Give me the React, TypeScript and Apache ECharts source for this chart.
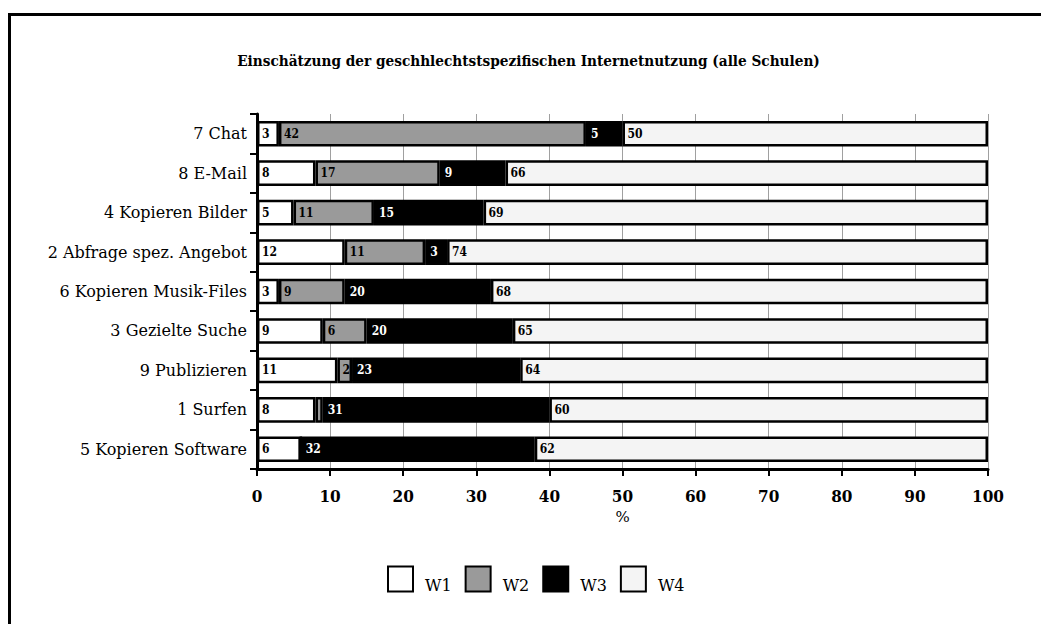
import React, { useEffect, useRef } from "react";
import * as echarts from "echarts";

const titleText = "Einschätzung der geschhlechtstspezifischen Internetnutzung (alle Schulen)";
const categories = [
  "7 Chat",
  "8 E-Mail",
  "4 Kopieren Bilder",
  "2 Abfrage spez. Angebot",
  "6 Kopieren Musik-Files",
  "3 Gezielte Suche",
  "9 Publizieren",
  "1 Surfen",
  "5 Kopieren Software",
];
const seriesNames = ["W1", "W2", "W3", "W4"];
const w1 = [3, 8, 5, 12, 3, 9, 11, 8, 6];
const w2 = [42, 17, 11, 11, 9, 6, 2, 1, 0];
const w3 = [5, 9, 15, 3, 20, 20, 23, 31, 32];
const w4 = [50, 66, 69, 74, 68, 65, 64, 60, 62];
const axisName = "%";

const SERIF = "'DejaVu Serif', serif";
const COND = "'DejaVu Serif Condensed', 'DejaVu Serif', serif";
const fills = ["#ffffff", "#9a9a9a", "#000000", "#f4f4f4"];
const labelColors = ["#000", "#000", "#fff", "#000"];

export default function App() {
  const ref = useRef<HTMLDivElement>(null);
  useEffect(() => {
    if (!ref.current) return;
    const chart = echarts.init(ref.current, null, { renderer: "svg" });
    const values = [w1, w2, w3, w4];
    chart.setOption({
      animation: false,
      backgroundColor: "#ffffff",
      title: {
        text: titleText,
        left: "center",
        top: 40,
        textStyle: { fontFamily: COND, fontSize: 15.2, fontWeight: "bold", color: "#000" },
      },
      graphic: [
        {
          type: "rect",
          shape: { x: 1.5, y: 6.5, width: 1100, height: 700 },
          style: { fill: "none", stroke: "#000", lineWidth: 3 },
          silent: true,
        },
      ],
      legend: {
        bottom: 26,
        left: 374,
        itemWidth: 25,
        itemHeight: 25,
        itemGap: 13,
        icon: "rect",
        data: seriesNames,
        formatter: "{a|{name}}",
        textStyle: {
          fontFamily: SERIF,
          fontSize: 16,
          color: "#000",
          padding: [0, 0, 0, 7],
          rich: { a: { fontFamily: SERIF, fontSize: 16, color: "#000", padding: [12, 0, 0, 0] } },
        },
      },
      grid: { left: 249, right: 61, top: 106, bottom: 155, containLabel: false },
      xAxis: {
        type: "value",
        min: 0,
        max: 100,
        interval: 10,
        name: axisName,
        nameLocation: "middle",
        nameGap: 40,
        nameTextStyle: { fontFamily: SERIF, fontSize: 15, color: "#000" },
        axisLine: { show: true, lineStyle: { color: "#000", width: 3 } },
        axisTick: { show: true, length: 7, lineStyle: { color: "#000", width: 2 } },
        axisLabel: { margin: 18, fontFamily: COND, fontSize: 17, fontWeight: "bold", color: "#000" },
        splitLine: { show: true, lineStyle: { color: "#a0a0a0", width: 1 } },
      },
      yAxis: {
        type: "category",
        inverse: true,
        data: categories,
        axisLine: { show: true, lineStyle: { color: "#000", width: 3 } },
        axisTick: { show: true, length: 7, lineStyle: { color: "#000", width: 2 } },
        axisLabel: { margin: 10, fontFamily: SERIF, fontSize: 16, color: "#000" },
        splitLine: { show: false },
      },
      series: seriesNames.map((name, i) => ({
        name,
        type: "bar",
        stack: "total",
        barWidth: "65%",
        data: values[i],
        itemStyle: { color: fills[i], borderColor: "#000", borderWidth: 2.5 },
        label: {
          show: true,
          position: "insideLeft",
          distance: 5,
          fontFamily: COND,
          fontSize: 12,
          fontWeight: "bold",
          color: labelColors[i],
          formatter: (p: any) => (p.value >= 2 ? String(p.value) : ""),
        },
      })),
    });
    return () => chart.dispose();
  }, []);
  return <div ref={ref} style={{ width: 1041, height: 616 }} />;
}
